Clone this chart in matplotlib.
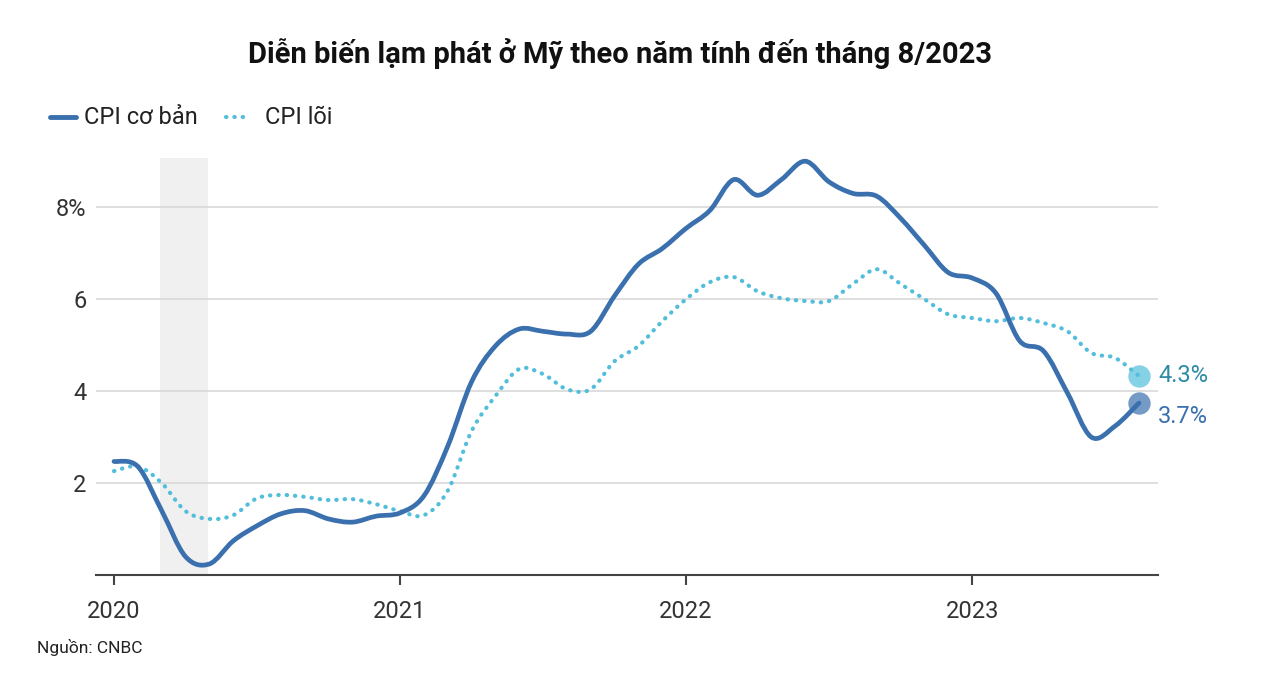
import matplotlib.pyplot as plt
from matplotlib.lines import Line2D
from matplotlib.path import Path
from matplotlib.patches import PathPatch

plt.rcParams['font.family'] = ['Roboto', 'DejaVu Sans']

# months since Jan 2020 (Jan 2020 .. Aug 2023)
months = list(range(44))

cpi_headline = [2.47, 2.36, 1.40, 0.40, 0.24, 0.74, 1.07, 1.33, 1.40, 1.22, 1.15, 1.28,
                1.35, 1.72, 2.80, 4.20, 4.98, 5.35, 5.30, 5.24, 5.30, 6.07, 6.76, 7.10,
                7.54, 7.93, 8.60, 8.26, 8.60, 9.00, 8.55, 8.30, 8.24, 7.76, 7.17, 6.58,
                6.46, 6.13, 5.09, 4.87, 3.96, 3.00, 3.24, 3.74]

cpi_core = [2.26, 2.36, 2.00, 1.39, 1.22, 1.30, 1.67, 1.74, 1.70, 1.63, 1.65, 1.54,
            1.39, 1.30, 1.83, 3.13, 3.89, 4.48, 4.37, 4.04, 4.04, 4.65, 4.98, 5.52,
            6.00, 6.37, 6.48, 6.17, 6.02, 5.96, 5.96, 6.33, 6.65, 6.33, 6.00, 5.67,
            5.59, 5.52, 5.59, 5.48, 5.30, 4.83, 4.72, 4.33]

recession = (1.93, 3.95)
year_ticks = [0, 12, 24, 36]
year_labels = ['2020', '2021', '2022', '2023']
y_ticks = [2, 4, 6, 8]
y_labels = ['2', '4', '6', '8%']

c_head = '#3b70ae'
c_core = '#52bedb'


def smooth_path(xs, ys):
    # Catmull-Rom through the points, drawn as cubic Bezier segments
    verts = [(xs[0], ys[0])]
    codes = [Path.MOVETO]
    n = len(xs)
    for i in range(n - 1):
        x0, y0 = (xs[i - 1], ys[i - 1]) if i > 0 else (xs[i], ys[i])
        x1, y1 = xs[i], ys[i]
        x2, y2 = xs[i + 1], ys[i + 1]
        x3, y3 = (xs[i + 2], ys[i + 2]) if i + 2 < n else (x2, y2)
        verts += [(x1 + (x2 - x0) / 6, y1 + (y2 - y0) / 6),
                  (x2 - (x3 - x1) / 6, y2 - (y3 - y1) / 6),
                  (x2, y2)]
        codes += [Path.CURVE4] * 3
    return Path(verts, codes)


fig = plt.figure(figsize=(12.84, 6.99), dpi=100)
ax = fig.add_axes([96/1284, 1-575/699, (1158-96)/1284, (575-158)/699])

ax.axvspan(*recession, color='#f0f0f0', zorder=0, lw=0)
for y in y_ticks:
    ax.axhline(y, color='#d9d9d9', lw=1.2, zorder=1)

ax.add_patch(PathPatch(smooth_path(months, cpi_core), fill=False, edgecolor=c_core, lw=3,
                       linestyle=(0, (0.1, 1.9)), capstyle='round', zorder=3))
ax.add_patch(PathPatch(smooth_path(months, cpi_headline), fill=False, edgecolor=c_head,
                       lw=3.4, joinstyle='round', capstyle='round', zorder=4))

ax.scatter([months[-1]], [cpi_core[-1]], s=260, color=c_core, alpha=0.7, zorder=5, lw=0)
ax.scatter([months[-1]], [cpi_headline[-1]], s=260, color=c_head, alpha=0.7, zorder=5, lw=0)
ax.text(months[-1] + 0.8, cpi_core[-1], f'{cpi_core[-1]:.1f}%', color='#2f8aa6',
        fontsize=17, va='center', ha='left')
ax.text(months[-1] + 0.8, cpi_headline[-1] - 0.3, f'{cpi_headline[-1]:.1f}%', color=c_head,
        fontsize=17, va='center', ha='left')

ax.set_xlim(-0.755, 43.8)
ax.set_ylim(0, 9.07)
ax.set_xticks(year_ticks)
ax.set_xticklabels(year_labels, fontsize=17, color='#333333')
ax.set_yticks(y_ticks)
ax.set_yticklabels(y_labels, fontsize=17, color='#333333')
ax.tick_params(axis='y', length=0, pad=7)
ax.tick_params(axis='x', length=7, width=1.5, color='#444444', pad=11)
for s in ['top', 'right', 'left']:
    ax.spines[s].set_visible(False)
ax.spines['bottom'].set_color('#444444')
ax.spines['bottom'].set_linewidth(1.5)

fig.text(620/1284, 1-53/699, 'Diễn biến lạm phát ở Mỹ theo năm tính đến tháng 8/2023',
         ha='center', va='center', fontsize=21, fontweight='bold', color='#111111')

# legend
fig.add_artist(Line2D([50/1284, 76/1284], [1-117/699]*2, color=c_head, lw=3.5,
                      solid_capstyle='round'))
fig.text(84/1284, 1-117/699, 'CPI cơ bản', fontsize=17, va='center', color='#222222')
fig.add_artist(Line2D([226/1284, 246/1284], [1-117/699]*2, color=c_core, lw=3,
                      linestyle=(0, (0.1, 1.9)), dash_capstyle='round'))
fig.text(265/1284, 1-117/699, 'CPI lõi', fontsize=17, va='center', color='#222222')

fig.text(37/1284, 1-648/699, 'Nguồn: CNBC', fontsize=12.5, va='center', color='#222222')

fig.savefig('out.png', dpi=100)
